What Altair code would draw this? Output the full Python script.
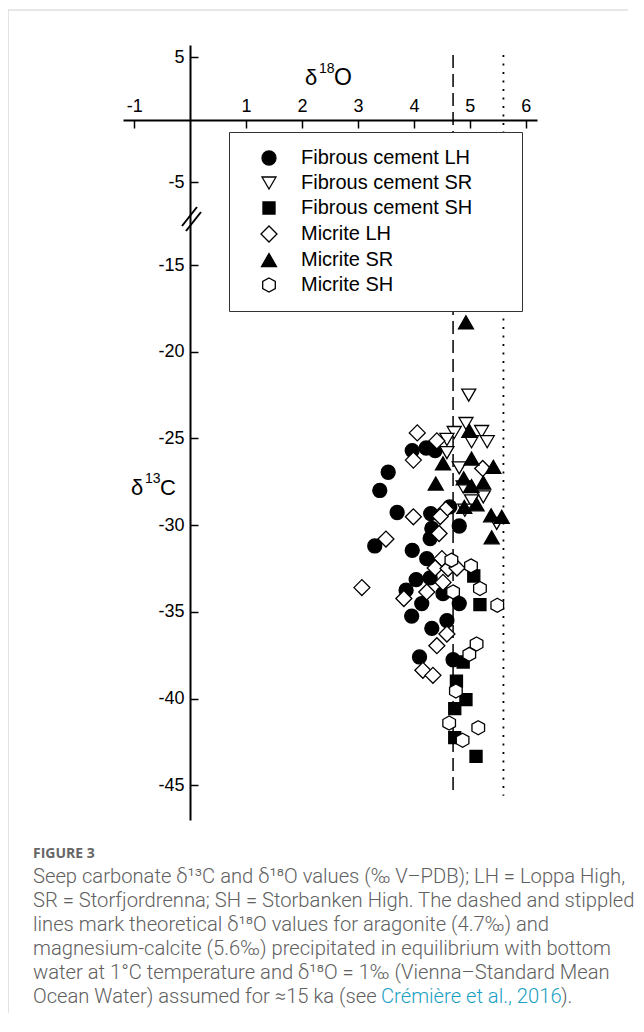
import altair as alt
import pandas as pd

# ---------------- data ----------------
series_names = ["Fibrous cement LH", "Fibrous cement SR", "Fibrous cement SH",
                "Micrite LH", "Micrite SR", "Micrite SH"]

fc_lh_d18o = [3.97, 4.22, 4.38, 3.54, 3.39, 3.70, 4.30, 4.64, 4.81, 4.32, 4.29, 3.30, 3.97,
              4.23, 4.04, 4.29, 3.86, 4.52, 4.14, 4.81, 3.96, 4.59, 4.32, 4.10, 4.70]
fc_lh_d13c = [-25.7, -25.55, -25.7, -26.95, -28.0, -29.27, -29.33, -28.95, -30.05, -30.19, -30.77,
              -31.2, -31.45, -31.93, -33.14, -33.04, -33.75, -33.95, -34.52, -34.52, -35.24,
              -35.5, -35.95, -37.6, -37.76]

fc_sr_d18o = [4.98, 4.93, 4.72, 4.59, 5.21, 5.03, 5.31, 4.59, 4.81, 4.88, 5.24, 5.03, 4.91, 5.48]
fc_sr_d13c = [-22.5, -24.14, -24.66, -25.06, -24.6, -25.19, -25.19, -25.82, -26.7, -27.8,
              -28.37, -28.6, -29.14, -29.9]

fc_sh_d18o = [5.07, 5.18, 4.88, 4.76, 4.93, 4.73, 4.73, 5.11]
fc_sh_d13c = [-32.93, -34.58, -37.89, -38.99, -40.06, -40.58, -42.25, -43.33]

m_lh_d18o = [4.06, 4.41, 3.99, 5.23, 3.99, 4.57, 4.47, 4.45, 3.50, 4.50, 4.38, 4.61, 4.77,
             4.52, 3.07, 4.23, 3.82, 4.59, 4.41, 4.16, 4.34]
m_lh_d13c = [-24.68, -25.14, -26.25, -26.73, -29.52, -29.1, -29.5, -30.48, -30.8, -31.93,
             -32.47, -32.5, -32.47, -33.3, -33.6, -33.85, -34.23, -36.28, -36.95, -38.37, -38.66]

m_sr_d18o = [4.93, 4.99, 4.52, 5.03, 5.42, 4.39, 4.89, 5.03, 5.24, 5.12, 4.90, 5.38, 5.57, 5.39]
m_sr_d13c = [-18.3, -24.56, -26.44, -26.16, -26.64, -27.6, -27.3, -27.75, -27.55, -28.8,
             -28.95, -29.43, -29.52, -30.7]

m_sh_d18o = [4.67, 5.02, 5.18, 4.70, 5.49, 5.12, 4.99, 4.75, 4.63, 5.15, 4.87]
m_sh_d13c = [-32.02, -32.35, -33.65, -33.85, -34.62, -36.85, -37.45, -39.56, -41.41, -41.68, -42.4]

# theoretical d18O lines (aragonite, Mg-calcite)
ref_d18o = [4.7, 5.6]
ref_top = [5.2, 5.2]
ref_bottom = [-45.6, -45.6]

x_ticks = [-1, 1, 2, 3, 4, 5, 6]
y_ticks = [5, -5, -15, -20, -25, -30, -35, -40, -45]

caption_lines = [
    "Seep carbonate δ¹³C and δ¹⁸O values (‰ V–PDB); LH = Loppa High,",
    "SR = Storfjordrenna; SH = Storbanken High. The dashed and stippled",
    "lines mark theoretical δ¹⁸O values for aragonite (4.7‰) and",
    "magnesium-calcite (5.6‰) precipitated in equilibrium with bottom",
    "water at 1°C temperature and δ¹⁸O = 1‰ (Vienna–Standard Mean",
]
caption_last = "Ocean Water) assumed for ≈15 ka (see "
caption_link = "Crémière et al., 2016"
caption_end = ")."

# ---------------- build table ----------------
rows = []
for name, xs, ys in zip(series_names,
                        [fc_lh_d18o, fc_sr_d18o, fc_sh_d18o, m_lh_d18o, m_sr_d18o, m_sh_d18o],
                        [fc_lh_d13c, fc_sr_d13c, fc_sh_d13c, m_lh_d13c, m_sr_d13c, m_sh_d13c]):
    for a, b in zip(xs, ys):
        rows.append({"series": name, "d18O": a, "d13C": b})
df = pd.DataFrame(rows)

W, H = 414, 775
FONT = "Liberation Sans"

x_scale = alt.Scale(domain=[-1.2, 6.2], nice=False, zero=False)
y_scale = alt.Scale(domain=[-47, -15, -5, 6], range=[775, 220, 137, 0], nice=False, zero=False)

x_axis = alt.Axis(orient="bottom", offset=-700, values=x_ticks, labelExpr="'' + datum.value",
                  tickSize=8, tickWidth=1.5, tickColor="black", domainColor="black", domainWidth=2,
                  labelFont=FONT, labelFontSize=18, labelColor="black", labelPadding=-17,
                  labelBaseline="alphabetic", labelFlush=False, labelOverlap=False,
                  grid=False, title=None)
y_axis = alt.Axis(orient="right", offset=-347, values=y_ticks, labelExpr="'' + datum.value",
                  tickSize=8, tickWidth=1.5, tickColor="black", domainColor="black", domainWidth=2,
                  labelFont=FONT, labelFontSize=18, labelColor="black", labelPadding=-14,
                  labelAlign="right", labelBaseline="middle", labelFlush=False, labelOverlap=False,
                  grid=False, title=None)

shape_paths = [
    "circle",
    "M-1,-0.86L1,-0.86L0,0.86Z",
    "M-0.86,-0.86L0.86,-0.86L0.86,0.86L-0.86,0.86Z",
    "M-1.14,0L0,-1.14L1.14,0L0,1.14Z",
    "M0,-0.93L1.07,0.93L-1.07,0.93Z",
    "M0,-1L0.9,-0.5L0.9,0.5L0,1L-0.9,0.5L-0.9,-0.5Z",
]
fills = ["black", "white", "black", "white", "black", "white"]
strokes = ["black"] * 6

# trailing no-break spaces (kept by a zero-width space) widen the legend frame
PAD = "\u00a0" * 6 + "\u200b"
leg = alt.Legend(title=None, orient="none", legendX=106, legendY=87,
                 fillColor="white", strokeColor="#333333", padding=16,
                 labelFont=FONT, labelFontSize=20, labelColor="black", labelLimit=400,
                 labelExpr="datum.label + '" + PAD + "'",
                 symbolSize=196, symbolStrokeWidth=1.3,
                 symbolOffset=14, labelOffset=22, rowPadding=5)

points = alt.Chart(df).mark_point(filled=True, strokeWidth=1.3, size=196,
                                  opacity=1).encode(
    x=alt.X("d18O:Q", scale=x_scale, axis=x_axis),
    y=alt.Y("d13C:Q", scale=y_scale, axis=y_axis),
    shape=alt.Shape("series:N", scale=alt.Scale(domain=series_names, range=shape_paths),
                    legend=leg, sort=series_names),
    fill=alt.Fill("series:N", scale=alt.Scale(domain=series_names, range=fills),
                  legend=leg, sort=series_names),
    stroke=alt.Stroke("series:N", scale=alt.Scale(domain=series_names, range=strokes),
                      legend=leg, sort=series_names),
)

ref_df = pd.DataFrame({"d18O": ref_d18o, "top": ref_top, "bottom": ref_bottom,
                       "kind": ["aragonite", "mg-calcite"]})
dash_line = alt.Chart(ref_df).transform_filter("datum.kind == 'aragonite'").mark_rule(
    color="black", strokeWidth=1.5, strokeDash=[13, 6]).encode(
    x=alt.X("d18O:Q", scale=x_scale, axis=x_axis),
    y=alt.Y("top:Q", scale=y_scale, axis=y_axis), y2="bottom:Q")
dot_line = alt.Chart(ref_df).transform_filter("datum.kind == 'mg-calcite'").mark_rule(
    color="black", strokeWidth=1.8, strokeDash=[2, 6.5]).encode(
    x=alt.X("d18O:Q", scale=x_scale, axis=x_axis),
    y=alt.Y("top:Q", scale=y_scale, axis=y_axis), y2="bottom:Q")

one = pd.DataFrame({"k": [0]})


def txt(text, px, py, size, color="black", font=FONT, weight="normal", align="left",
        baseline="alphabetic"):
    return alt.Chart(one).mark_text(text=text, fontSize=size, font=font, color=color,
                                    align=align, baseline=baseline, fontWeight=weight).encode(
        x=alt.value(px), y=alt.value(py))


def seg(x1, y1, x2, y2, color="black", width=2.0):
    return alt.Chart(one).mark_rule(color=color, strokeWidth=width).encode(
        x=alt.value(x1), y=alt.value(y1), x2=alt.value(x2), y2=alt.value(y2))


annotations = [
    # x-axis title  δ18O
    txt("δ", 182, 40, 22), txt("18", 196, 28, 14), txt("O", 211, 40, 23),
    # y-axis title  δ13C
    txt("δ", 8, 450, 22), txt("13", 22, 438, 14), txt("C", 37, 450, 22),
    # axis break marks
    seg(59, 181, 74, 162), seg(63, 186, 78, 167),
]

CAP = "Roboto"
GREY = "#606060"
CFS = 20.2
CW = 300
cap_x = -90
cap_y = [832, 856, 880, 904, 928]
caption = [txt("FIGURE 3", cap_x, 809, 14, color="#666666", font="Open Sans", weight="bold",
               baseline="middle")]
for line, yy in zip(caption_lines, cap_y):
    caption.append(txt(line, cap_x, yy, CFS, color=GREY, font=CAP, weight=CW,
                       baseline="middle"))
caption.append(txt(caption_last, cap_x, 952, CFS, color=GREY, font=CAP, weight=CW,
                   baseline="middle"))
caption.append(txt(caption_link, 258, 952, CFS, color="#1a9fc2", font=CAP, weight=CW,
                   baseline="middle"))
caption.append(txt(caption_end, 438, 952, CFS, color=GREY, font=CAP, weight=CW,
                   baseline="middle"))

frame = [seg(-115, -35, 505, -35, color="#d0d0d0", width=1.2),
         seg(-115, -35, -115, 968, color="#d0d0d0", width=1.2)]

chart = alt.layer(dash_line, dot_line, points, *annotations, *caption, *frame).properties(
    width=W, height=H,
    autosize=alt.AutoSizeParams(type="none"),
    padding={"left": 115, "top": 37, "right": 99, "bottom": 194},
    background="white",
).configure_view(stroke=None)

chart.save("out.html", embed_options={"renderer": "svg", "actions": False})
